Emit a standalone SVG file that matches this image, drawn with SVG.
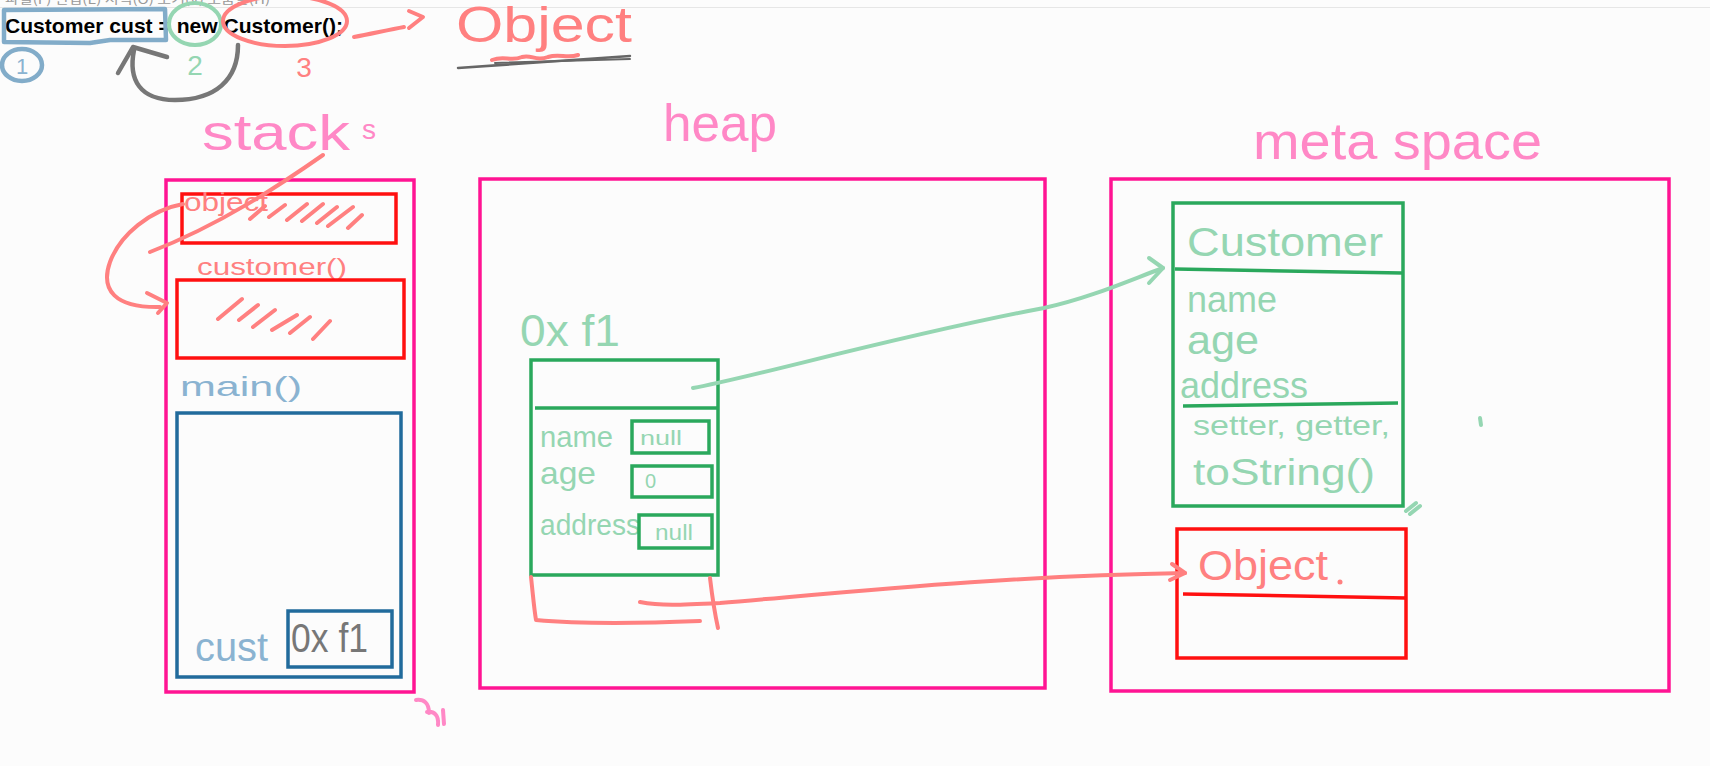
<svg xmlns="http://www.w3.org/2000/svg" width="1710" height="766" viewBox="0 0 1710 766">
<defs>
<style>
.bg{fill:#fcfcfc}
.pinkbox{fill:none;stroke:#ff1493;stroke-width:3.5}
.redbox{fill:none;stroke:#ff1010;stroke-width:3.5}
.greenbox{fill:none;stroke:#2aa85c;stroke-width:3.5}
.bluebox{fill:none;stroke:#216b9c;stroke-width:3.5}
.hand{font-family:"Liberation Sans","Noto Sans",sans-serif}
.pinkt{fill:#ff88c6}
.redt{fill:#ff8080}
.greent{fill:#95d6b2}
.bluet{fill:#8ab3d1}
.grayt{fill:#777}
.rs{fill:none;stroke:#ff8080;stroke-width:4;stroke-linecap:round;stroke-linejoin:round}
.gs{fill:none;stroke:#95d6b2;stroke-width:4;stroke-linecap:round;stroke-linejoin:round}
.ks{fill:none;stroke:#777;stroke-width:4.5;stroke-linecap:round;stroke-linejoin:round}
.bs{fill:none;stroke:#82acc9;stroke-width:4.5;stroke-linecap:round;stroke-linejoin:round}
.ps{fill:none;stroke:#ff88c6;stroke-width:4;stroke-linecap:round;stroke-linejoin:round}
</style>
</defs>
<rect class="bg" x="0" y="0" width="1710" height="766"/>
<g id="editor-top">
<text x="5" y="4" font-family="'Noto Sans CJK KR',sans-serif" font-size="12" fill="#999" textLength="265" lengthAdjust="spacingAndGlyphs">파일(F)  편집(E)  서식(O)  보기(V)  도움말(H)</text>
<line x1="0" y1="7.5" x2="1710" y2="7.5" stroke="#e6e6e6" stroke-width="1"/>
<text x="5" y="33" font-family="'Liberation Sans',sans-serif" font-weight="bold" font-size="21" textLength="338" lengthAdjust="spacingAndGlyphs">Customer cust = new Customer();</text>
</g>
<g id="annotation-1">
<path class="bs" d="M4,10 L165,9 L166,40 L110,40 L90,43 L4,42 Z"/>
<ellipse class="bs" cx="22" cy="65" rx="20" ry="16"/>
<text class="hand bluet" x="22" y="74" font-size="22" text-anchor="middle">1</text>
</g>
<g id="annotation-2">
<ellipse cx="195" cy="24" rx="26" ry="21" fill="none" stroke="#95d6b2" stroke-width="4"/>
<text class="hand greent" x="195" y="75" font-size="28" text-anchor="middle">2</text>
</g>
<g id="annotation-3">
<ellipse cx="285" cy="21" rx="62" ry="25" fill="none" stroke="#ff8080" stroke-width="4"/>
<text class="hand redt" x="304" y="77" font-size="28" text-anchor="middle">3</text>
</g>
<g id="annotation-object">
<text class="hand redt" x="456" y="42" font-size="50" textLength="176" lengthAdjust="spacingAndGlyphs">Object</text>
<path d="M458,68 L630,56" fill="none" stroke="#666" stroke-width="2.5" stroke-linecap="round"/>
<path d="M495,63 L630,59" fill="none" stroke="#666" stroke-width="2" stroke-linecap="round"/>
<path class="rs" d="M492,60 C505,55 510,62 522,57 C532,54 535,62 548,57 C560,53 566,59 578,55" stroke-width="3"/>
</g>
<g id="label-stacks">
<text class="hand pinkt" font-size="50"><tspan x="202" y="150" textLength="148" lengthAdjust="spacingAndGlyphs">stack</tspan><tspan x="362" y="139" font-size="28">s</tspan></text>
</g>
<g id="label-heap">
<text class="hand pinkt" x="663" y="141" font-size="52" textLength="114" lengthAdjust="spacingAndGlyphs">heap</text>
</g>
<g id="label-meta">
<text class="hand pinkt" x="1253" y="159" font-size="52" textLength="289" lengthAdjust="spacingAndGlyphs">meta space</text>
</g>
<g id="stack">
<rect class="pinkbox" x="166" y="180" width="248" height="512"/>
<rect class="redbox" x="182" y="194" width="214" height="49"/>
<text class="hand redt" x="184" y="211" font-size="26" textLength="84" lengthAdjust="spacingAndGlyphs">object</text>
<path class="rs" d="M250,219 L265,206 M269,217 L285,205 M287,220 L307,204 M302,221 L323,204 M317,223 L337,207 M328,226 L353,207 M348,228 L362,215"/>
<text class="hand redt" x="197" y="275" font-size="24" textLength="150" lengthAdjust="spacingAndGlyphs">customer()</text>
<rect class="redbox" x="177" y="280" width="227" height="78"/>
<path class="rs" d="M218,319 L242,299 M239,320 L258,305 M253,327 L275,310 M272,330 L297,315 M290,333 L310,317 M313,339 L330,321"/>
<text class="hand bluet" x="180" y="396" font-size="28" textLength="122" lengthAdjust="spacingAndGlyphs">main()</text>
<rect class="bluebox" x="177" y="413" width="224" height="264"/>
<text class="hand bluet" x="195" y="661" font-size="40" textLength="73" lengthAdjust="spacingAndGlyphs">cust</text>
<rect class="bluebox" x="288" y="611" width="104" height="56"/>
<text class="hand grayt" x="291" y="652" font-size="40" textLength="77" lengthAdjust="spacingAndGlyphs">0x f1</text>
<path class="ps" d="M416,700 C424,699 429,703 429,713 M427,712 C434,711 439,715 438,725 M443,710 L444,724"/>
</g>
<g id="heap">
<rect class="pinkbox" x="480" y="179" width="565" height="509"/>
<text class="hand greent" x="520" y="346" font-size="44" textLength="100" lengthAdjust="spacingAndGlyphs">0x f1</text>
<rect class="greenbox" x="531" y="360" width="187" height="215"/>
<line x1="535" y1="408" x2="718" y2="408" stroke="#2aa85c" stroke-width="3.5"/>
<text class="hand greent" x="540" y="447" font-size="30" textLength="73" lengthAdjust="spacingAndGlyphs">name</text>
<rect class="greenbox" x="632" y="421" width="77" height="32"/>
<text class="hand greent" x="640" y="445" font-size="20" textLength="42" lengthAdjust="spacingAndGlyphs">null</text>
<text class="hand greent" x="540" y="484" font-size="32" textLength="56" lengthAdjust="spacingAndGlyphs">age</text>
<rect class="greenbox" x="632" y="466" width="80" height="31"/>
<text class="hand greent" x="645" y="488" font-size="20">0</text>
<text class="hand greent" x="540" y="535" font-size="30" textLength="100" lengthAdjust="spacingAndGlyphs">address</text>
<rect class="greenbox" x="639" y="515" width="73" height="33"/>
<text class="hand greent" x="655" y="540" font-size="22" textLength="38" lengthAdjust="spacingAndGlyphs">null</text>
<path class="rs" d="M531,577 C533,595 534,608 536,620 C580,624 650,623 700,621 M710,578 C712,595 714,610 718,628"/>
</g>
<g id="metaspace">
<rect class="pinkbox" x="1111" y="179" width="558" height="512"/>
<rect class="greenbox" x="1173" y="203" width="230" height="303"/>
<path d="M1175,269 L1402,273" stroke="#2aa85c" stroke-width="3.5" fill="none"/>
<text class="hand greent" x="1187" y="256" font-size="40" textLength="196" lengthAdjust="spacingAndGlyphs">Customer</text>
<text class="hand greent" x="1187" y="312" font-size="36" textLength="90" lengthAdjust="spacingAndGlyphs">name</text>
<text class="hand greent" x="1187" y="354" font-size="40" textLength="72" lengthAdjust="spacingAndGlyphs">age</text>
<text class="hand greent" x="1180" y="398" font-size="36" textLength="128" lengthAdjust="spacingAndGlyphs">address</text>
<path d="M1183,406 L1398,403" stroke="#2aa85c" stroke-width="3.5" fill="none"/>
<text class="hand greent" x="1193" y="435" font-size="28" textLength="197" lengthAdjust="spacingAndGlyphs">setter, getter,</text>
<text class="hand greent" x="1193" y="485" font-size="36" textLength="182" lengthAdjust="spacingAndGlyphs">toString()</text>
<path class="gs" d="M1406,511 L1416,503 M1410,514 L1420,506" stroke-width="3"/>
<path class="gs" d="M1480,418 L1481,425" stroke-width="3"/>
<rect class="redbox" x="1177" y="529" width="229" height="129"/>
<path d="M1183,594 L1406,598" stroke="#ff1010" stroke-width="3.5" fill="none"/>
<text class="hand redt" x="1198" y="580" font-size="42" textLength="130" lengthAdjust="spacingAndGlyphs">Object</text>
<circle cx="1340" cy="582" r="2.5" fill="#ff8080"/>
</g>
<g id="connectors">
<path class="gs" d="M693,388 C750,378 900,335 1044,308 C1090,298 1130,280 1163,268"/>
<path class="gs" d="M1149,258 L1163,268 L1149,283"/>
<path class="rs" d="M640,602 C660,606 680,605 720,603 C850,592 1000,576 1185,573"/>
<path class="rs" d="M1172,564 L1185,573 L1170,580"/>
<path class="rs" d="M323,155 C280,185 220,225 150,252"/>
<path class="rs" d="M183,204 C150,210 120,235 110,262 C100,290 115,308 160,307"/>
<path class="rs" d="M147,293 L167,303 L158,313"/>
<path class="ks" d="M238,45 C238,80 215,100 175,100 C140,100 128,80 134,50"/>
<path class="ks" d="M118,73 L133,47 L167,57"/>
<path class="rs" d="M354,37 C370,34 388,30 404,27"/>
<path class="rs" d="M409,11 L423,17 L409,28"/>
</g>
</svg>
